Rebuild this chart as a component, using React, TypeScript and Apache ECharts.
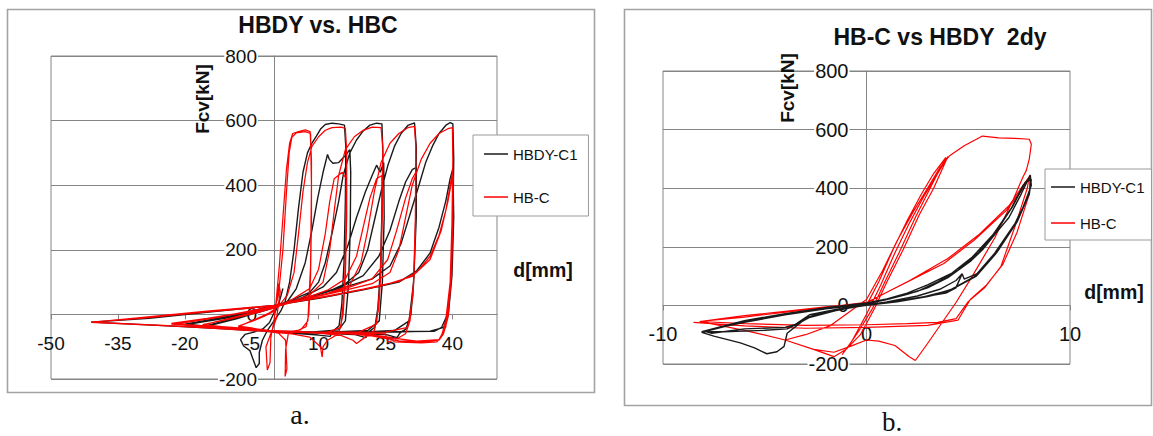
import React, { useEffect, useRef } from 'react';
import * as echarts from 'echarts';

const seriesNames = ['HBDY-C1', 'HB-C'];
const xTicksA = [-50, -35, -20, -5, 10, 25, 40];
const xTicksB = [-10, 0, 10];
const yTicks = [-200, 0, 200, 400, 600, 800];
const titleA = 'HBDY vs. HBC';
const titleB = 'HB-C vs HBDY  2dy';
const yTitle = 'Fcv[kN]';
const xTitle = 'd[mm]';

// Chart a: HBDY-C1 (black)
const hbdyA: number[][] = [
  [0, 0], [1, 30], [2, 80], [1.2, 40], [0, 5], [-1, -25], [-2.5, -45], [-4.5, -55], [-6.5, -62], [-7.5, -78],
  [-6.8, -98], [-5.4, -112], [-4.8, -135], [-4, -165], [-3.3, -152], [-3.3, -118], [-2.6, -80], [-1.5, -50], [0, -20], [1.5, 10],
  [2.5, 40], [3.5, 100], [4.5, 200], [5.5, 330], [6.5, 440], [7.5, 500], [8.5, 530], [9.5, 552], [10.5, 575], [11.5, 588],
  [13, 592], [14.5, 590], [15.8, 586], [16.1, 520], [16, 350], [15.7, 160], [15.2, 30], [14.6, -35], [13.2, -52], [12.6, -68],
  [10, -64], [6, -60], [2, -56], [-3, -51], [-8, -46], [-16, -38],
  [-10, -16], [-4, 4], [0, 20], [3, 40], [5, 80], [7, 160], [8.5, 260], [9.8, 360], [11, 440], [12, 495],
  [12.4, 480], [13.2, 468], [14.5, 470], [16, 492], [17, 510], [17.2, 440], [17.1, 260], [16.7, 90], [16, -20], [14.5, -48],
  [8, -55], [0, -52], [-8, -45], [-20, -30],
  [-12, -10], [-4, 10], [0, 25], [4, 45], [8, 68], [10, 100], [11.5, 160], [13, 250], [14.5, 350], [15.5, 430],
  [17, 500], [18.5, 540], [20, 568], [21.5, 586], [23, 592], [24.2, 590], [24.4, 500], [24.2, 320], [23.9, 150], [23.3, 20],
  [22.6, -40], [21.2, -55], [20.6, -72], [18, -62], [10, -58], [2, -55], [-5, -50], [-16, -40],
  [-8, -12], [0, 22], [6, 50], [11, 85], [14, 130], [16.5, 210], [18.5, 300], [20.5, 380], [22, 430], [23, 462],
  [23.8, 440], [24.6, 470], [24.7, 300], [24.3, 100], [23.6, -20], [21, -50], [12, -55], [2, -54], [-8, -46], [-20, -32],
  [-10, -10], [0, 25], [6, 45], [12, 70], [16, 95], [19, 130], [21, 200], [22.5, 290], [24, 380], [25.5, 460],
  [27, 520], [28.5, 560], [30, 585], [31.5, 593], [31.9, 520], [31.8, 300], [31.4, 120], [30.7, 0], [29.6, -45], [28.2, -58],
  [27.6, -72], [25, -62], [15, -58], [5, -56], [-5, -50], [-16, -38],
  [-8, -10], [0, 25], [8, 55], [15, 85], [20, 120], [23.5, 180], [26, 260], [28, 350], [29.5, 410], [31, 448],
  [31.9, 455], [31.9, 300], [31.3, 100], [30.3, -20], [27, -50], [18, -56], [6, -55], [-6, -48], [-20, -32],
  [-10, -8], [0, 28], [8, 55], [16, 85], [22, 110], [26, 150], [28.5, 220], [30.5, 310], [32.5, 400], [34, 470],
  [35.5, 520], [37, 560], [38.5, 585], [39.5, 594], [40.1, 590], [40.3, 480], [40.1, 280], [39.7, 100], [38.9, 0], [37.6, -40],
  [36, -52], [30, -53], [22, -55], [12, -56], [0, -52], [-12, -44], [-26, -34], [-41, -24],
  [-28, -12], [-14, 8], [0, 28], [10, 50], [20, 76], [28, 100], [32, 135], [35, 190], [37, 270], [38.5, 350],
  [39.5, 420], [40.1, 452], [40.3, 300], [39.9, 120], [39.1, 0], [38.1, -40], [35, -52], [25, -55], [12, -55], [0, -52],
  [-10, -45], [-16, -40],
];

// Chart a: HB-C (red)
const hbcA: number[][] = [
  [0, 0], [0.5, 40], [1.1, 95], [1.4, 70], [0.6, -10], [-0.6, -55], [-1.8, -100], [-1.5, -172], [-0.9, -150], [-0.7, -70],
  [0, -20],
  [0.4, 30], [1.2, 150], [2, 300], [2.8, 450], [3.5, 530], [4.2, 560], [5.5, 566], [7, 571], [8.1, 566], [8.4, 480],
  [8.4, 300], [8.2, 120], [7.8, 0], [7.2, -38], [5, -52], [3.2, -60], [2.6, -110], [2.5, -192], [2.9, -168], [2.6, -80],
  [1, -58], [-2, -50], [-5, -42], [-8, -36],
  [-5, -22], [-2, -5], [0, 10], [1, 60], [2, 200], [2.8, 380], [3.4, 500], [4, 548], [5, 562], [7, 566],
  [8.2, 560], [8.4, 400], [8.2, 150], [7.6, -20], [6, -48], [3, -55], [0, -52], [-4, -45], [-8, -38],
  [-5, -20], [-1, 5], [1, 25], [3, 60], [4.5, 130], [5.5, 250], [6.5, 380], [7.5, 470], [8.5, 520], [10, 550],
  [11.5, 570], [13, 578], [15, 580], [16, 576], [16.3, 500], [16.3, 300], [16, 120], [15.5, 0], [14.5, -60], [12, -80],
  [11, -100], [10.8, -132], [10.4, -100], [8, -70], [4, -60], [0, -55], [-5, -48], [-10, -40], [-16, -32],
  [-10, -15], [-4, 5], [0, 20], [4, 45], [8, 80], [10, 140], [11.5, 250], [12.5, 350], [13.5, 420], [15.3, 440],
  [16.2, 420], [16.1, 250], [15.8, 80], [15, -40], [12, -55], [6, -55], [0, -52], [-8, -42], [-16, -33],
  [-10, -12], [-4, 8], [0, 22], [4, 40], [8, 60], [11, 100], [12.5, 200], [13.5, 320], [14.5, 430], [16, 510],
  [18, 550], [20, 570], [22, 580], [24, 578], [24.4, 520], [24.3, 320], [24, 140], [23.5, 20], [22.5, -50], [20, -75],
  [18.5, -90], [17.7, -80], [15, -65], [10, -58], [4, -55], [-3, -50], [-12, -40], [-23, -28],
  [-15, -12], [-6, 6], [0, 22], [6, 45], [12, 75], [16, 110], [18.5, 180], [20, 270], [21.5, 360], [23, 420],
  [24.2, 430], [24.2, 300], [23.8, 100], [23, -30], [19, -55], [10, -55], [0, -52], [-10, -42], [-23, -30],
  [-14, -12], [-5, 10], [0, 25], [6, 45], [12, 65], [17, 90], [19.5, 160], [21, 260], [22.5, 380], [24, 470],
  [26, 530], [28, 560], [30, 578], [31.5, 582], [31.8, 520], [31.7, 300], [31.3, 100], [30.5, -20], [29.5, -60], [27, -80],
  [25.5, -85], [25, -60], [20, -58], [12, -56], [4, -54], [-5, -48], [-15, -38], [-23, -28],
  [-15, -12], [-6, 8], [0, 24], [8, 50], [16, 80], [22, 110], [25.5, 170], [27.5, 260], [29.5, 360], [31, 420],
  [31.8, 440], [31.7, 250], [31.2, 60], [30, -40], [25, -55], [15, -56], [5, -54], [-8, -45], [-22, -30],
  [-14, -12], [-5, 12], [0, 25], [8, 50], [16, 75], [22, 95], [26, 130], [28, 200], [29.5, 300], [31, 400],
  [33, 480], [35, 530], [37, 560], [39, 575], [40, 578], [40.1, 480], [39.9, 280], [39.5, 100], [38.5, -20], [37.5, -70],
  [36.5, -85], [33, -88], [27, -85], [26, -70], [20, -60], [10, -56], [0, -52], [-10, -44], [-25, -34], [-41, -24],
  [-30, -12], [-15, 8], [0, 26], [10, 52], [20, 78], [28, 102], [32, 130], [35, 180], [37, 245], [38.5, 320],
  [39.5, 400], [40, 440], [40.1, 300], [39.8, 120], [39, -10], [38, -60], [37, -80], [33, -85], [28, -82], [20, -62],
  [8, -56], [-5, -50], [-20, -38], [-41, -25],
  [-30, -10], [-15, 10], [0, 28], [12, 56], [24, 88], [31, 118], [35, 170], [37.5, 260], [39, 350], [39.8, 410],
  [40.2, 430], [40, 250], [39.4, 60], [38.5, -40], [37, -78], [32, -83], [25, -70], [15, -58], [0, -50],
];

// Chart b: HBDY-C1 (black)
const hbdyB: number[][] = [
  [0, 0], [1.5, 12], [3, 30], [3.9, 45], [4.4, 62], [4.7, 108], [4.4, 85], [3.6, 55], [2.5, 32], [1, 12],
  [0, 0], [-1.5, -14], [-2.8, -32], [-3.4, -60], [-3.1, -50], [-2.5, -30], [-1, -8], [0, 2],
  [2.5, 24], [4.1, 52], [5.3, 98], [6.3, 178], [7.3, 280], [7.8, 350], [8.1, 410], [8.05, 445],
  [7.6, 380], [7.0, 300], [6.4, 250], [5.7, 190], [5.1, 150], [4.0, 95], [3, 60], [2, 38], [1, 20], [0, 5],
  [-1, -4], [-2, -12], [-4, -30], [-6, -55], [-8.1, -92],
  [-7.5, -105], [-6.2, -128], [-5.5, -145], [-4.9, -165], [-4.4, -158], [-4.05, -140], [-3.9, -95], [-2.9, -40], [-1.5, -15], [0, 0],
  [1.5, 15], [3, 30], [4.2, 55], [5.4, 100], [6.4, 180], [7.4, 285], [8, 380], [8.1, 430],
  [7.8, 420], [7.2, 340], [6.4, 255], [5.5, 180], [4.5, 120], [3.5, 80], [2.5, 48], [1, 20], [0, 6], [-2, -12],
  [-4, -32], [-6, -58], [-8, -88],
  [-7.6, -95], [-6, -80], [-4, -75], [-3.5, -65], [-3, -45], [-1.5, -18], [0, 2],
  [2, 20], [3.9, 42], [4.4, 60], [4.7, 108], [4.8, 90], [5.5, 110], [6.5, 190], [7.5, 300], [8.05, 400], [8.06, 440],
  [7.7, 410], [7.1, 330], [6.2, 240], [5.2, 165], [4.2, 110], [3, 70], [2, 42], [1, 22], [0, 8], [-2, -8],
  [-4, -28], [-6, -52], [-8.1, -90],
  [-7, -90], [-5, -85], [-3.9, -80], [-3.3, -60], [-2.5, -30], [-1, -8], [0, 3],
];

// Chart b: HB-C (red)
const hbcB: number[][] = [
  [0, 0], [0.6, 80], [1.3, 190], [2, 290], [2.7, 380], [3.3, 450], [3.9, 505],
  [3.2, 410], [2.4, 300], [1.6, 180], [0.9, 80], [0.3, -10], [-0.4, -90], [-0.9, -140], [-1.2, -168],
  [-0.7, -120], [0, -30], [0.7, 70], [1.4, 180], [2.1, 280], [2.8, 370], [3.5, 450], [4.0, 508],
  [3.3, 400], [2.6, 310], [1.8, 190], [1.0, 80], [0.4, -10], [-0.3, -100], [-1.0, -150], [-1.6, -175],
  [-2.6, -150], [-4, -118], [-3, -100], [-1.8, -70], [-0.8, -20], [0, 20], [0.8, 120], [1.5, 220], [2.3, 320], [3.0, 400],
  [3.6, 470], [4.1, 512], [4.8, 545], [5.7, 578], [6.5, 572], [7.3, 570], [8.0, 567], [8.1, 550], [8.0, 500], [7.85, 460],
  [7.7, 440],
  [7.2, 360], [6.3, 230], [5.2, 100], [4.4, 10], [3.7, -60], [3.0, -130], [2.4, -188], [2.1, -175], [1.4, -137], [0.6, -122],
  [0, -118], [-0.8, -140], [-1.6, -160], [-2.6, -150], [-4, -118], [-6, -85], [-8.2, -55],
  [-6, -35], [-4, -20], [-2, -5], [0, 8], [1, 45], [2.2, 87], [3.8, 143], [5.3, 223], [6.9, 326], [7.6, 390],
  [8.0, 440],
  [7.9, 400], [7.3, 270], [6.6, 132], [5.8, 60], [5, 13], [4.4, -45], [3.5, -58], [2, -62], [0, -66], [-3, -68],
  [-6, -62], [-8.2, -55],
  [-6, -40], [-3, -15], [0, 10], [2, 80], [4, 160], [5.5, 240], [7, 340], [7.8, 420], [8.05, 445],
  [8, 380], [7.4, 250], [6.7, 140], [5.9, 70], [5.1, 20], [4.5, -50], [3, -68], [0, -75], [-3, -78], [-6, -70],
  [-8.5, -58],
];

const FONT = '"Liberation Sans", Arial, Helvetica, sans-serif';
const SERIF = '"Liberation Serif", "Times New Roman", Times, serif';
const GRID_COLOR = '#858585';
const BLACK = '#1a1a1a';
const RED = '#ff0000';

const gridA = { left: 51, top: 56, width: 446, height: 323 };
const gridB = { left: 663, top: 71, width: 407, height: 293 };

function txt(text: string, x: number, y: number, size: number, bold: boolean, family: string, rotation = 0, vAlign = 'middle') {
  return {
    type: 'text',
    x,
    y,
    rotation,
    z: 20,
    silent: true,
    style: {
      text,
      fontSize: size,
      fontWeight: bold ? 'bold' : 'normal',
      fontFamily: family,
      fill: '#111',
      align: 'center',
      verticalAlign: vAlign,
      textAlign: 'center',
      textVerticalAlign: vAlign,
    },
  };
}

function mainX(gridIndex: number, min: number, max: number, ticks: number[], size: number, margin: number, offset: number) {
  return {
    type: 'value',
    gridIndex,
    min,
    max,
    z: 1,
    position: 'bottom',
    offset,
    axisLine: { show: true, onZero: false, lineStyle: { color: GRID_COLOR, width: 1 } },
    axisTick: { show: true, length: 5, customValues: ticks, lineStyle: { color: GRID_COLOR } },
    axisLabel: { customValues: ticks, margin, fontSize: size, fontFamily: FONT, color: '#111' },
    splitLine: { show: false },
  };
}

function mainY(gridIndex: number, size: number, margin: number, offset: number) {
  return {
    type: 'value',
    gridIndex,
    min: -200,
    max: 800,
    interval: 200,
    z: 1,
    position: 'left',
    offset,
    axisLine: { show: true, onZero: false, lineStyle: { color: GRID_COLOR, width: 1 } },
    axisTick: { show: false },
    axisLabel: {
      margin,
      fontSize: size,
      fontFamily: FONT,
      color: '#111',
      backgroundColor: '#fff',
      padding: [0, 1],
      formatter: (v: number) => (yTicks.indexOf(v) >= 0 ? String(v) : ''),
    },
    splitLine: { show: false },
  };
}

function hiddenX(gridIndex: number, min: number, max: number) {
  return {
    type: 'value', gridIndex, min, max, z: 0,
    axisLine: { show: false }, axisTick: { show: false }, axisLabel: { show: false }, splitLine: { show: false },
  };
}

function hiddenY(gridIndex: number) {
  return {
    type: 'value', gridIndex, min: -200, max: 800, interval: 200, z: 0,
    axisLine: { show: false }, axisTick: { show: false }, axisLabel: { show: false },
    splitLine: { show: true, lineStyle: { color: GRID_COLOR, width: 1 } },
  };
}

function legendAt(left: number, top: number, padding: number[], itemGap: number) {
  return {
    data: seriesNames,
    orient: 'vertical',
    left,
    top,
    padding,
    itemGap,
    itemWidth: 24,
    itemHeight: 1.5,
    icon: 'rect',
    borderColor: '#9a9a9a',
    borderWidth: 1,
    borderRadius: 0,
    backgroundColor: '#fff',
    selectedMode: false,
    textStyle: { fontSize: 15, fontFamily: FONT, color: '#111', lineHeight: 18 },
  };
}

function lineSeries(name: string, xi: number, data: number[][], color: string, width: number, z: number) {
  return {
    name,
    type: 'line',
    xAxisIndex: xi,
    yAxisIndex: xi,
    data,
    symbol: 'none',
    showSymbol: false,
    smooth: false,
    z,
    lineStyle: { color, width },
    itemStyle: { color },
  };
}

export default function App() {
  const ref = useRef<HTMLDivElement>(null);
  useEffect(() => {
    if (!ref.current) return;
    const chart = echarts.init(ref.current, undefined, { renderer: 'svg' });
    const option: any = {
      animation: false,
      backgroundColor: '#ffffff',
      grid: [
        { ...gridA, show: true, borderColor: GRID_COLOR, borderWidth: 1, backgroundColor: 'transparent', z: 0 },
        { ...gridB, show: true, borderColor: GRID_COLOR, borderWidth: 1, backgroundColor: 'transparent', z: 0 },
        { ...gridA, show: false },
        { ...gridB, show: false },
      ],
      xAxis: [
        mainX(0, -50, 50, xTicksA, 19, 20, -64.6),
        mainX(1, -10, 10, xTicksB, 20, 19, -58.6),
        hiddenX(2, -50, 50),
        hiddenX(3, -10, 10),
      ],
      yAxis: [mainY(0, 19, 16, -223), mainY(1, 20, 17, -203.5), hiddenY(2), hiddenY(3)],
      legend: [legendAt(473, 135, [10, 11, 10, 11], 25), legendAt(1045, 169, [9, 7, 8, 6], 18)],
      series: [
        lineSeries('HBDY-C1', 0, hbdyA, BLACK, 1.4, 2),
        lineSeries('HB-C', 0, hbcA, RED, 1.25, 3),
        lineSeries('HB-C', 1, hbcB, RED, 1.2, 2),
        lineSeries('HBDY-C1', 1, hbdyB, BLACK, 1.4, 3),
      ],
      graphic: [
        {
          type: 'rect', z: -10, silent: true,
          shape: { x: 7.5, y: 9.5, width: 587, height: 383 },
          style: { fill: '#fff', stroke: '#a3a3a3', lineWidth: 1.6 },
        },
        {
          type: 'rect', z: -10, silent: true,
          shape: { x: 624.5, y: 9.5, width: 527, height: 396 },
          style: { fill: '#fff', stroke: '#a3a3a3', lineWidth: 1.6 },
        },
        txt(titleA, 318, 25, 23, true, FONT),
        txt(yTitle, 202, 99, 19, true, FONT, Math.PI / 2),
        txt(xTitle, 543, 270, 19.5, true, FONT),
        txt('a.', 300, 414, 28, false, SERIF),
        txt(titleB, 940, 37, 23, true, FONT),
        txt(yTitle, 787, 88, 19, true, FONT, Math.PI / 2),
        txt(xTitle, 1114, 292, 19.5, true, FONT),
        txt('b.', 892, 435, 27, false, SERIF, 0, 'bottom'),
      ],
    };
    chart.setOption(option);
    return () => chart.dispose();
  }, []);
  return (
    <div
      ref={ref}
      style={{ position: 'absolute', left: 0, top: 0, width: 1153, height: 436, background: '#fff' }}
    />
  );
}
